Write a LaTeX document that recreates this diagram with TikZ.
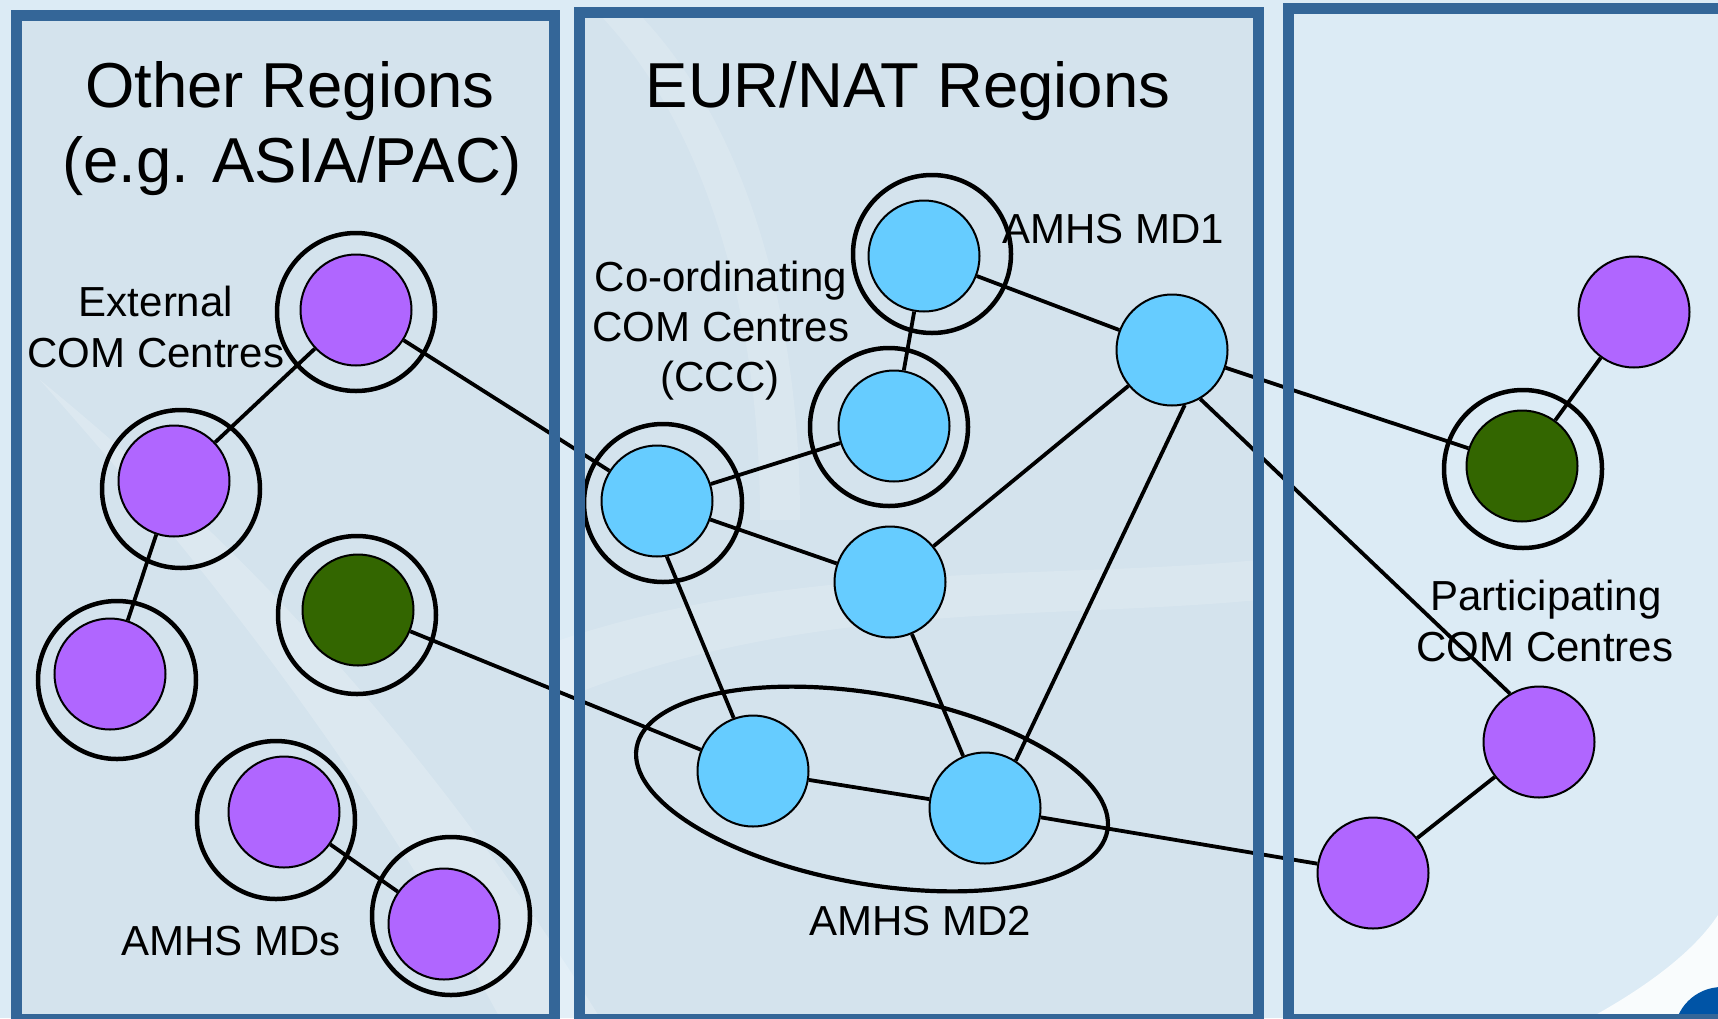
\documentclass[tikz,border=0pt]{standalone}
\usepackage{fontspec}
\setmainfont{Liberation Sans}
\usetikzlibrary{shapes.geometric}
\definecolor{bgbase}{RGB}{220,235,245}
\definecolor{bgdark}{RGB}{212,227,237}
\definecolor{framec}{RGB}{52,102,152}
\definecolor{purp}{RGB}{176,102,255}
\definecolor{sky}{RGB}{102,204,255}
\definecolor{grn}{RGB}{51,102,0}
\definecolor{logoblue}{RGB}{0,84,166}
\begin{document}
\begin{tikzpicture}[x=1pt,y=-1pt,
  site/.style={circle,draw=black,line width=2pt,minimum size=111pt,inner sep=0pt},
  ringc/.style={draw=black,line width=4.5pt},
  link/.style={draw=black,line width=3.8pt},
  panel/.style={draw=framec,line width=11pt},
  big/.style={font=\fontsize{63.5}{75}\selectfont,anchor=base,inner sep=0pt},
  lab/.style={font=\fontsize{42}{51}\selectfont,anchor=base,inner sep=0pt},
]
\useasboundingbox (0,0) rectangle (1718,1018);
% background
\fill[bgbase] (0,0) rectangle (1718,1018);
\fill[bgdark] (16,15) rectangle (554,1018);
\fill[bgdark] (579,12) rectangle (1258,1018);
\fill[white,opacity=0.2] (40,380) .. controls (200,560) and (360,760) .. (500,1018) -- (600,1018) .. controls (440,760) and (260,560) .. (40,380) -- cycle;
\fill[white,opacity=0.15] (600,15) .. controls (700,120) and (760,300) .. (760,520) -- (800,520) .. controls (800,300) and (740,120) .. (640,15) -- cycle;
\fill[white,opacity=0.15] (560,640) .. controls (800,560) and (1050,580) .. (1258,560) -- (1258,600) .. controls (1050,620) and (800,600) .. (560,700) -- cycle;
\fill[white,opacity=0.85] (1590,1018) .. controls (1650,985) and (1695,950) .. (1718,915) -- (1718,1018) -- cycle;
\fill[logoblue] (1722,1035) ellipse [x radius=48, y radius=48];
% rings
\draw[ringc] (356,312) circle[radius=79];
\draw[ringc] (181,489) circle[radius=79];
\draw[ringc] (117,680) circle[radius=79];
\draw[ringc] (357,615) circle[radius=79];
\draw[ringc] (276,820) circle[radius=79];
\draw[ringc] (451,916) circle[radius=79];
\draw[ringc] (663,503) circle[radius=79];
\draw[ringc] (889,427) circle[radius=79];
\draw[ringc] (932,254) circle[radius=79];
\draw[ringc] (1523,469) circle[radius=79];
% MD2 ellipse
\node[ellipse,draw=black,line width=4.2pt,rotate=-10,minimum width=478pt,minimum height=190pt,inner sep=0pt] (md2) at (872,789) {};
% sites
\node[site,fill=purp] (p1) at (356,310) {};
\node[site,fill=purp] (p2) at (174,481) {};
\node[site,fill=purp] (p3) at (110,674) {};
\node[site,fill=grn] (g1) at (358,610) {};
\node[site,fill=purp] (p4) at (284,812) {};
\node[site,fill=purp] (p5) at (444,924) {};
\node[site,fill=sky] (c1) at (657,501) {};
\node[site,fill=sky] (c2) at (894,426) {};
\node[site,fill=sky] (c3) at (924,256) {};
\node[site,fill=sky] (b1) at (1172,350) {};
\node[site,fill=sky] (b2) at (890,582) {};
\node[site,fill=sky] (b3) at (753,771) {};
\node[site,fill=sky] (b4) at (985,808) {};
\node[site,fill=purp] (r1) at (1634,312) {};
\node[site,fill=grn] (g2) at (1522,466) {};
\node[site,fill=purp] (r2) at (1539,742) {};
\node[site,fill=purp] (r3) at (1373,873) {};
% links
\draw[link] (p1) -- (p2);
\draw[link] (p2) -- (p3);
\draw[link] (p1) -- (c1);
\draw[link] (g1) -- (b3);
\draw[link] (p4) -- (p5);
\draw[link] (c1) -- (c2);
\draw[link] (c3) -- (c2);
\draw[link] (c3) -- (b1);
\draw[link] (c1) -- (b2);
\draw[link] (c1.-80) -- (b3.110);
\draw[link] (b2) -- (b1);
\draw[link] (b2) -- (b4);
\draw[link] (b1.-77) -- (b4.57);
\draw[link] (b1) -- (g2);
\draw[link] (b1.-60) -- (r2.121);
\draw[link] (g2) -- (r1);
\draw[link] (b3) -- (b4);
\draw[link] (b4) -- (r3);
\draw[link] (r3) -- (r2);
% panels
\draw[panel] (16,15) rectangle (554,1019);
\draw[panel] (579,12) rectangle (1258,1019);
\draw[panel] (1288,8) rectangle (1745,1019);
% texts
\node[big] (tOther1) at (290,107) {Other Regions};
\node[big] (tOther2) at (292,182) {(e.g. ASIA/PAC)};
\node[big] (tEur) at (908,107) {EUR/NAT Regions};
\node[lab] (tExt1) at (156,316) {External};
\node[lab] (tExt2) at (156,367) {COM Centres};
\node[lab] (tCcc1) at (721,291) {Co-ordinating};
\node[lab] (tCcc2) at (721,341) {COM Centres};
\node[lab] (tCcc3) at (720,391) {(CCC)};
\node[lab] (tMd1) at (1113,243) {AMHS MD1};
\node[lab] (tMds) at (231,955) {AMHS MDs};
\node[lab] (tMd2) at (920,935) {AMHS MD2};
\node[lab] (tPart1) at (1546,610) {Participating};
\node[lab] (tPart2) at (1545,661) {COM Centres};
\end{tikzpicture}
\end{document}
